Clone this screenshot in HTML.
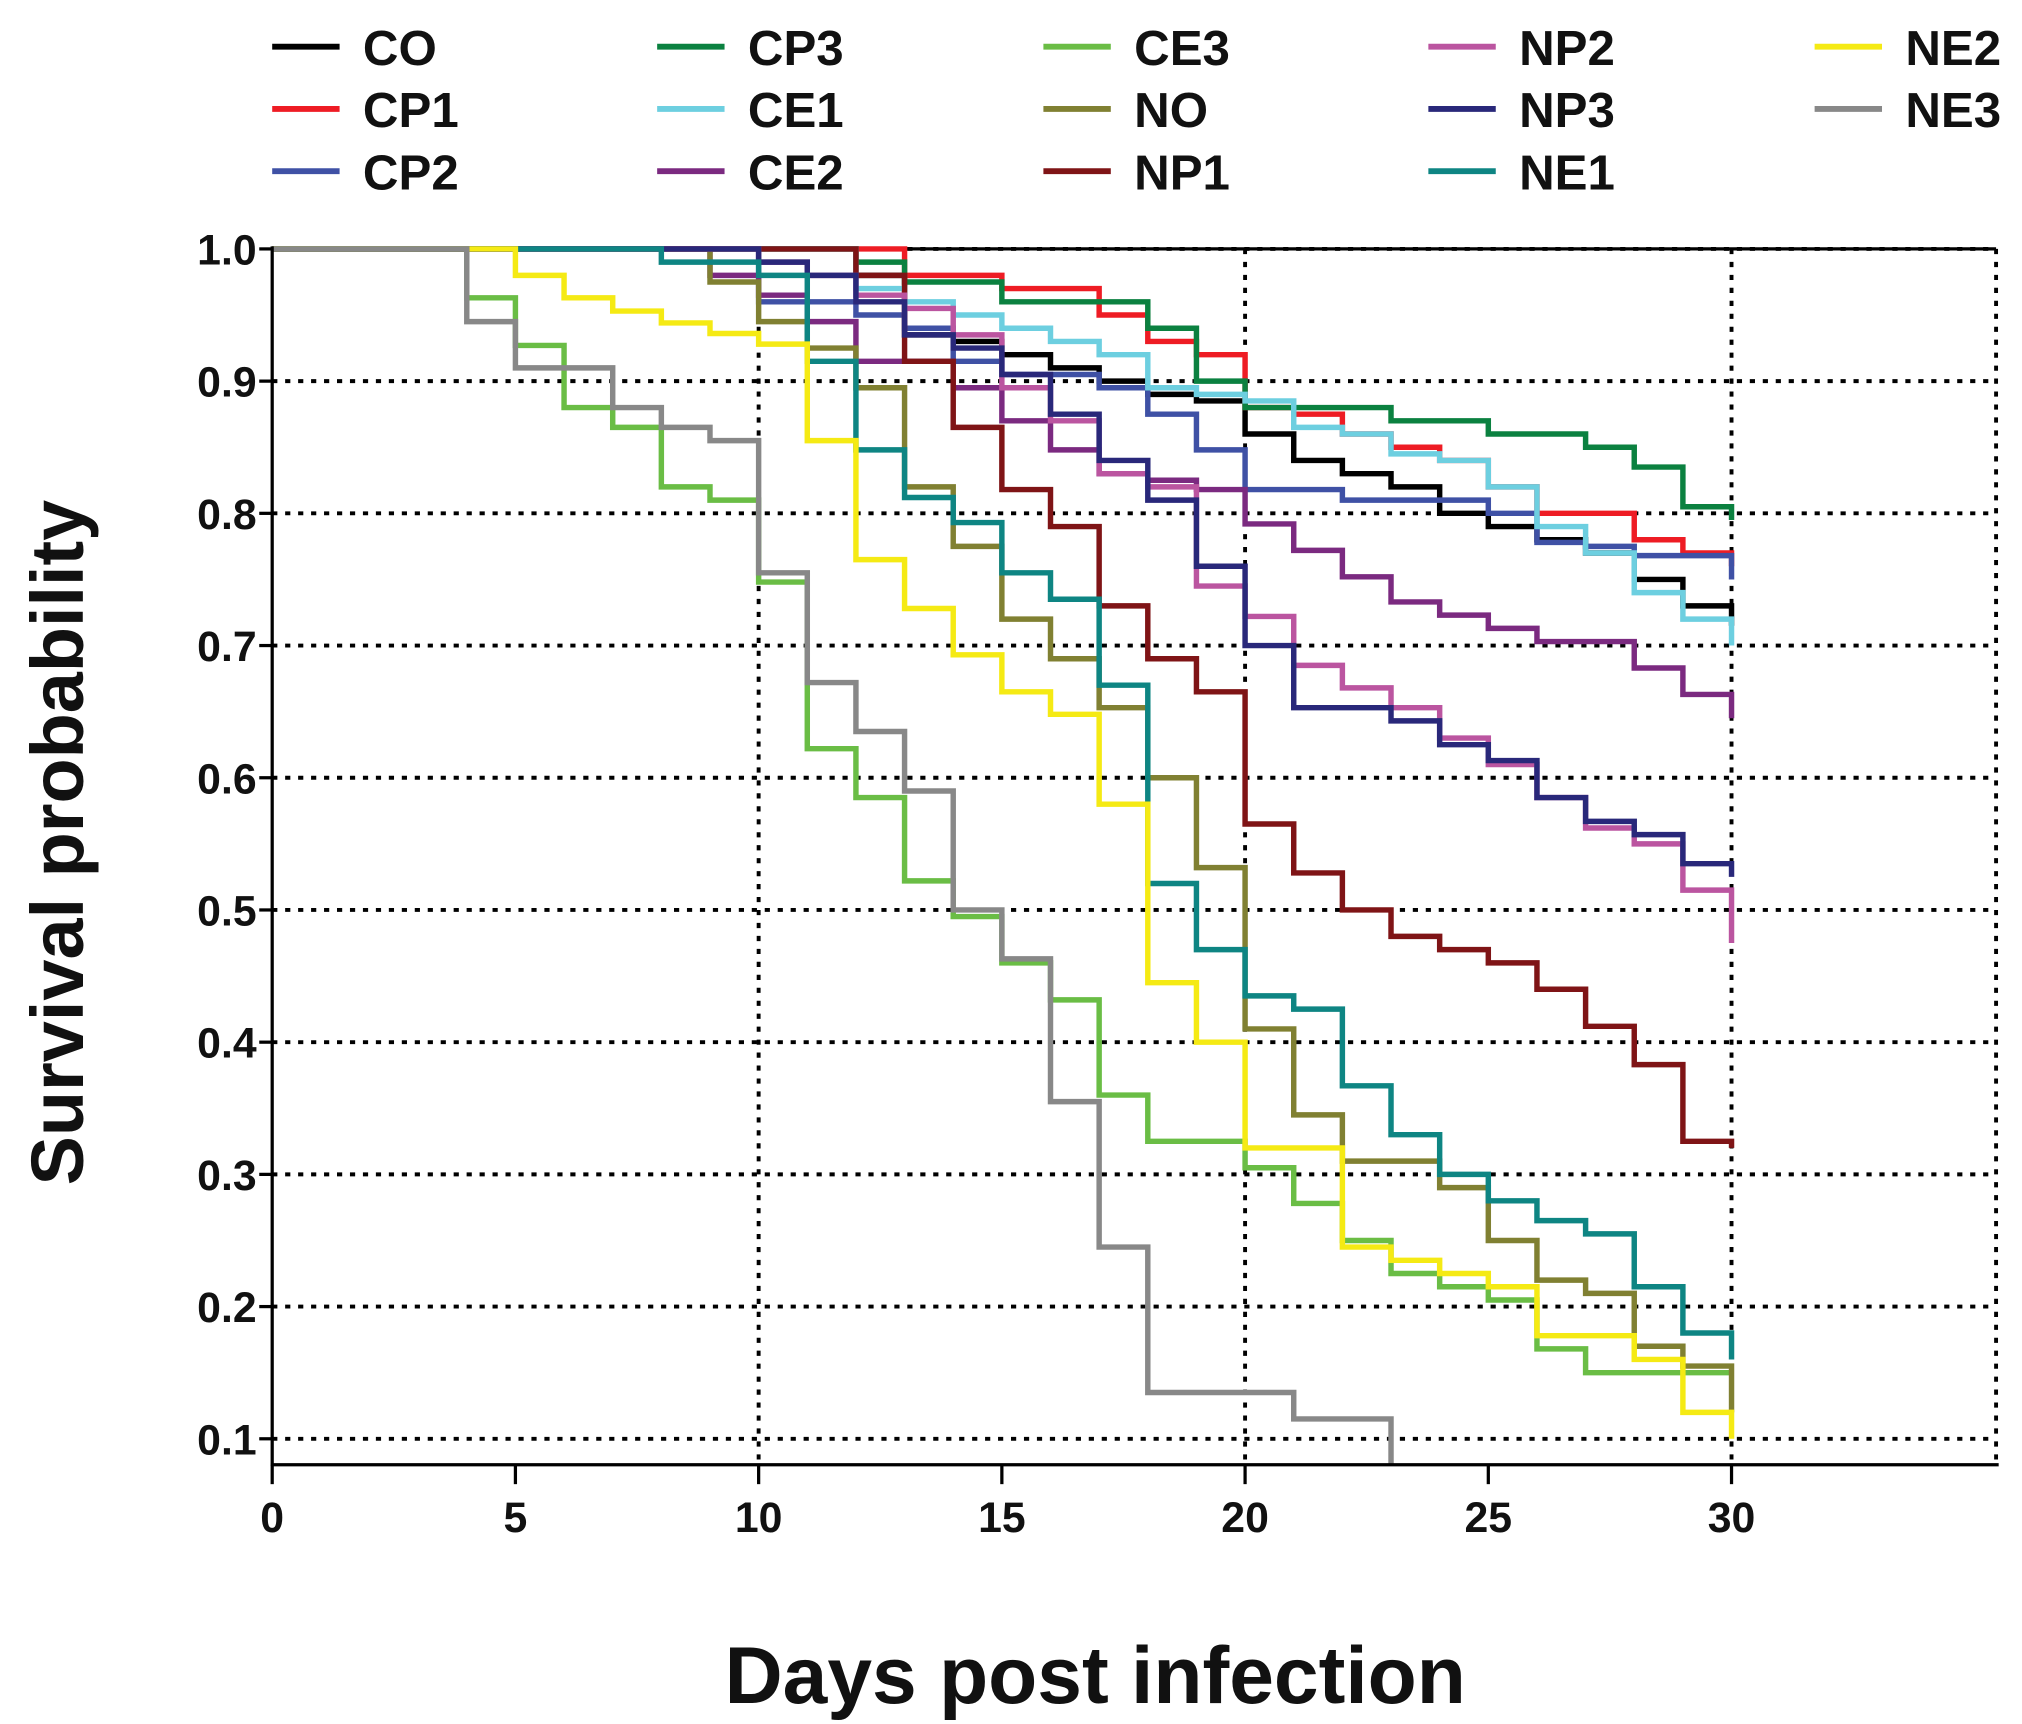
<!DOCTYPE html>
<html><head><meta charset="utf-8"><style>
html,body{margin:0;padding:0;background:#fff;}
svg{display:block;}
text{font-family:"Liberation Sans",Arial,sans-serif;}
</style></head><body>
<svg id="chart" width="2022" height="1724" viewBox="0 0 1560 1330" xmlns="http://www.w3.org/2000/svg">
<defs><clipPath id="pc"><rect x="210" y="188" width="1332" height="942"/></clipPath></defs>
<g id="grid"></g>
<g id="series" clip-path="url(#pc)"></g>
<g id="axes"></g>
<g id="legend"></g>
<text x="0" y="0" transform="translate(64,650) rotate(-90)" text-anchor="middle" font-size="57" font-weight="bold" fill="#111">Survival probability</text>
<text x="845" y="1314" text-anchor="middle" font-size="62" font-weight="bold" fill="#111">Days post infection</text>
</svg>
<script>
const names = ["CO","CP1","CP2","CP3","CE1","CE2","CE3","NO","NP1","NP2","NP3","NE1","NE2","NE3"];
const colors = ["#000000","#ee1c24","#3f51a5","#0b8140","#6dcfe0","#7b2a80","#6abd45","#808032","#7f1416","#bb55a0","#29287a","#0e8583","#f5ea14","#888888"];
const xTicks = [0,5,10,15,20,25,30];
const yTicks = [0.1,0.2,0.3,0.4,0.5,0.6,0.7,0.8,0.9,1.0];
const yTickLabels = ["0.1","0.2","0.3","0.4","0.5","0.6","0.7","0.8","0.9","1.0"];
// values for day intervals [d,d+1), d=0..29, then final value at day 30
const sCO  = [1,1,1,1,1,1,1,1,1,1,1,1,0.98,0.935,0.93,0.92,0.91,0.90,0.89,0.885,0.86,0.84,0.83,0.82,0.80,0.79,0.78,0.77,0.75,0.73,0.715];
const sCP1 = [1,1,1,1,1,1,1,1,1,1,1,1,1,0.98,0.98,0.97,0.97,0.95,0.93,0.92,0.88,0.875,0.86,0.85,0.84,0.82,0.80,0.80,0.78,0.77,0.76];
const sCP2 = [1,1,1,1,1,1,1,1,1,1,0.96,0.96,0.95,0.94,0.915,0.905,0.905,0.895,0.875,0.848,0.818,0.818,0.81,0.81,0.81,0.80,0.778,0.775,0.768,0.768,0.75];
const sCP3 = [1,1,1,1,1,1,1,1,1,1,1,1,0.99,0.975,0.975,0.96,0.96,0.96,0.94,0.90,0.88,0.88,0.88,0.87,0.87,0.86,0.86,0.85,0.835,0.805,0.795];
const sCE1 = [1,1,1,1,1,1,1,1,1,1,1,1,0.97,0.96,0.95,0.94,0.93,0.92,0.895,0.89,0.885,0.865,0.86,0.845,0.84,0.82,0.79,0.77,0.74,0.72,0.70];
const sCE2 = [1,1,1,1,1,1,1,1,1,0.98,0.965,0.945,0.915,0.915,0.895,0.87,0.848,0.83,0.825,0.818,0.792,0.772,0.752,0.733,0.723,0.713,0.703,0.703,0.683,0.663,0.645];
const sCE3 = [1,1,1,1,0.963,0.927,0.88,0.865,0.82,0.81,0.748,0.622,0.585,0.522,0.495,0.46,0.432,0.36,0.325,0.325,0.305,0.278,0.25,0.225,0.215,0.205,0.168,0.15,0.15,0.15,0.15];
const sNO  = [1,1,1,1,1,1,1,1,1,0.975,0.945,0.925,0.895,0.82,0.775,0.72,0.69,0.653,0.60,0.532,0.41,0.345,0.31,0.31,0.29,0.25,0.22,0.21,0.17,0.155,0.12];
const sNP1 = [1,1,1,1,1,1,1,1,1,1,1,1,0.98,0.915,0.865,0.818,0.79,0.73,0.69,0.665,0.565,0.528,0.50,0.48,0.47,0.46,0.44,0.412,0.383,0.325,0.32];
const sNP2 = [1,1,1,1,1,1,1,1,1,1,0.99,0.98,0.965,0.955,0.935,0.895,0.87,0.83,0.82,0.745,0.722,0.685,0.668,0.653,0.63,0.61,0.585,0.562,0.55,0.515,0.475];
const sNP3 = [1,1,1,1,1,1,1,1,1,1,0.99,0.98,0.96,0.935,0.925,0.905,0.875,0.84,0.81,0.76,0.70,0.653,0.653,0.643,0.625,0.613,0.585,0.567,0.557,0.535,0.525];
const sNE1 = [1,1,1,1,1,1,1,1,0.99,0.99,0.98,0.915,0.848,0.812,0.793,0.755,0.735,0.67,0.52,0.47,0.435,0.425,0.367,0.33,0.30,0.28,0.265,0.255,0.215,0.18,0.16];
const sNE2 = [1,1,1,1,1,0.98,0.963,0.953,0.944,0.936,0.928,0.855,0.765,0.728,0.693,0.665,0.648,0.58,0.445,0.40,0.32,0.32,0.245,0.235,0.225,0.215,0.178,0.178,0.16,0.12,0.10];
const sNE3 = [1,1,1,1,0.945,0.91,0.91,0.88,0.865,0.855,0.755,0.672,0.635,0.59,0.50,0.463,0.355,0.245,0.135,0.135,0.135,0.115,0.115,0.07,0.07,0.07,0.07,0.07,0.07,0.07,0.07];
const seriesValues = [sCO,sCP1,sCP2,sCP3,sCE1,sCE2,sCE3,sNO,sNP1,sNP2,sNP3,sNE1,sNE2,sNE3];

const NS="http://www.w3.org/2000/svg";
const X0=210, XD=37.53, Y1=192, YD=1020;
function xs(d){return X0+d*XD;}
function ys(v){return Y1+(1-v)*YD;}
function mk(tag,attrs,parent){const e=document.createElementNS(NS,tag);for(const k in attrs)e.setAttribute(k,attrs[k]);parent.appendChild(e);return e;}
const grid=document.getElementById('grid'), axes=document.getElementById('axes'), ser=document.getElementById('series'), leg=document.getElementById('legend');
yTicks.forEach(v=>{
  const l=mk('line',{x1:X0,x2:1540,y1:ys(v),y2:ys(v),stroke:'#000','stroke-width':3,'stroke-dasharray':'4 6'},grid);
  
  
});
[10,20,30].forEach(d=>{
  const l=mk('line',{x1:xs(d),x2:xs(d),y1:ys(1),y2:1130,stroke:'#000','stroke-width':3,'stroke-dasharray':'4 6'},grid);
  
  
});
const rb=mk('line',{x1:1540,x2:1540,y1:ys(1),y2:1130,stroke:'#000','stroke-width':3,'stroke-dasharray':'4 6'},grid);


const tb=mk('line',{x1:X0,x2:1540,y1:ys(1),y2:ys(1),stroke:'#000','stroke-width':2.5},grid);


seriesValues.forEach((vals,i)=>{
  let d='M'+xs(0)+','+ys(vals[0]);
  for(let k=0;k<30;k++){ d+=' H'+xs(k+1)+' V'+ys(vals[k+1]); }
  const p=mk('path',{d:d,fill:'none',stroke:colors[i],'stroke-width':4.2},ser);
  
  
});
const ya=mk('line',{x1:X0,x2:X0,y1:ys(1)-2,y2:1131,stroke:'#000','stroke-width':2.5},axes);


const xa=mk('line',{x1:X0-1,x2:1542,y1:1130,y2:1130,stroke:'#000','stroke-width':2.5},axes);


yTicks.forEach((v,i)=>{
  const t=mk('line',{x1:X0-10,x2:X0,y1:ys(v),y2:ys(v),stroke:'#000','stroke-width':2.5},axes);
  
  
  const tx=mk('text',{x:X0-12,y:ys(v)+12,'text-anchor':'end','font-size':33,'font-weight':'bold',fill:'#111'},axes);
  tx.textContent=yTickLabels[i];
  
  
});
xTicks.forEach(d=>{
  const t=mk('line',{x1:xs(d),x2:xs(d),y1:1130,y2:1145,stroke:'#000','stroke-width':2.5},axes);
  
  
  const tx=mk('text',{x:xs(d),y:1182,'text-anchor':'middle','font-size':33,'font-weight':'bold',fill:'#111'},axes);
  tx.textContent=String(d);
  
  
});
const colX=[210,507,805,1102,1400], rowY=[42,90,138];
names.forEach((n,i)=>{
  const c=Math.floor(i/3), r=i%3;
  const g=mk('g',{},leg);
  
  
  mk('line',{x1:colX[c],x2:colX[c]+52,y1:rowY[r]-6,y2:rowY[r]-6,stroke:colors[i],'stroke-width':4.5},g);
  const t=mk('text',{x:colX[c]+70,y:rowY[r]+8,'font-size':38,'font-weight':'bold',fill:'#111'},g);
  t.textContent=n;
});
</script>
</body></html>
